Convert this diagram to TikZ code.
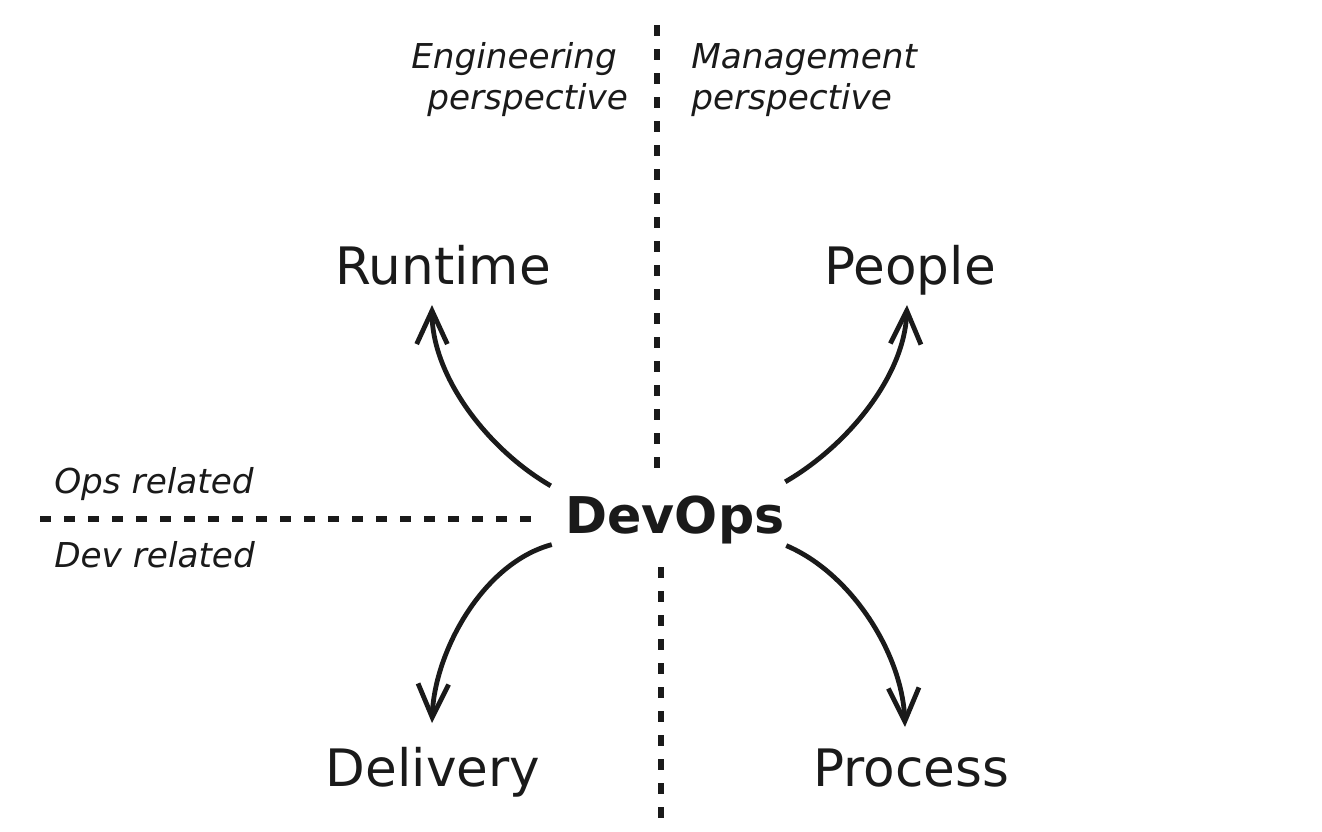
\documentclass[tikz,border=0pt]{standalone}
\usepackage{fontspec}
\setmainfont{DejaVu Sans}
\usetikzlibrary{arrows.meta,calc}
\definecolor{ink}{HTML}{1A1A1A}
\begin{document}
\begin{tikzpicture}[x=0.75pt,y=0.75pt,
  big/.style={font=\fontsize{38.7}{45}\selectfont, inner sep=0pt, anchor=base, text=ink},
  hub/.style={font=\fontsize{38}{45}\selectfont\bfseries, inner xsep=9pt, inner ysep=7pt, text depth=0pt, anchor=base, text=ink},
  note/.style={font=\fontsize{25.7}{30}\selectfont\itshape, inner sep=0pt, anchor=base west, text=ink},
  divider/.style={draw=ink, line width=4.5pt, dash pattern=on 8.5pt off 9.5pt},
  link/.style={draw=ink, line width=3.6pt, looseness=0.85, -{Straight Barb[length=25pt,width=23pt]}}]
\useasboundingbox[fill=white] (0,0) rectangle (1322,-832);
% dividers
\coordinate (vtop) at (657,-25);
\coordinate (vmid) at (657,-472);
\coordinate (vlow) at (661,-567);
\coordinate (vbot) at (661,-825);
\coordinate (hl) at (40,-519);
\coordinate (hr) at (540,-519);
\draw[divider] (vtop) -- (vmid);
\draw[divider] (vlow) -- (vbot);
\draw[divider] (hl) -- (hr);
% notes
\node[note] (eng1) at (411,-68) {Engineering};
\node[note] (eng2) at (427,-109) {perspective};
\node[note] (man1) at (691,-68) {Management};
\node[note] (man2) at (691,-109) {perspective};
\node[note] (ops) at (54,-493) {Ops related};
\node[note] (dev) at (54,-567) {Dev related};
% main nodes
\node[hub] (devops) at (675,-533) {DevOps};
\node[big] (runtime) at (443,-284) {Runtime};
\node[big] (people) at (910,-284) {People};
\node[big] (delivery) at (433,-786) {Delivery};
\node[big] (process) at (911,-786) {Process};
% connectors
\draw[link] ($(devops.north west)+(-2.5,0)$) to[out=150,in=-90] ($(runtime.base)+(-11,-21)$);
\draw[link] ($(devops.north east)+(-11.5,4)$) to[out=30,in=-92] ($(people.base)+(-3,-21)$);
\draw[link] ($(devops.south west)+(-1.5,-2)$) to[out=-165,in=88] ($(delivery.base)+(-1,63)$);
\draw[link] ($(devops.south east)+(-10.5,-3)$) to[out=-23,in=92] ($(process.base)+(-6,59)$);
\end{tikzpicture}
\end{document}
